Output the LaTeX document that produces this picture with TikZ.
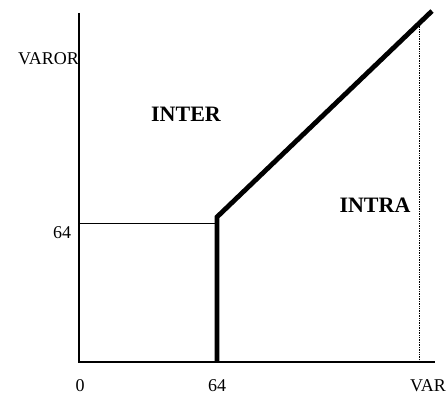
\documentclass[tikz,border=0pt]{standalone}
\usepackage{fontspec}
\setmainfont{Liberation Serif}
\usepackage{tikz}
\usetikzlibrary{positioning, calc}

\begin{document}
\begin{tikzpicture}[
    x=1pt, y=-1pt,
    lbl/.style={inner sep=0pt, font=\fontsize{18}{20}\selectfont},
    region/.style={inner sep=0pt, font=\fontsize{22}{24}\selectfont\bfseries},
    axis/.style={line width=2.2pt},
    bound/.style={line width=4.8pt},
    thin/.style={line width=0.9pt},
    guide/.style={densely dotted, line width=0.7pt}
]
\useasboundingbox (0,0) rectangle (447,395);

% Points
\coordinate (o)    at (79,362);
\coordinate (ytop) at (79,13);
\coordinate (xend) at (435,362);
\coordinate (kb)   at (217,362);
\coordinate (k)    at (217,217);
\coordinate (tr)   at (432,11);
\coordinate (h)    at (79,223);
\coordinate (hk)   at (217,223);
\coordinate (db)   at (419,362);
\coordinate (dt)   at ($(k)!(db)!(tr)$);
\coordinate (dtop) at (419,24);

% Axes
\draw[axis] (ytop) -- (o) -- (xend);

% Boundary
\draw[thin] (h) -- (hk);
\draw[guide] (dtop) -- (db);
\draw[bound, line join=miter] (kb) -- (k) -- (tr);

% Labels
\node[lbl, anchor=east] (varor) at (79,58.5) {VAROR};
\node[lbl] (y64)   at (62,233) {64};
\node[lbl] (x0)    at (80,386) {0};
\node[lbl] (x64)   at (217,386) {64};
\node[lbl] (xvar)  at (428,386) {VAR};
\node[region] (inter) at (186,114) {INTER};
\node[region] (intra) at (375,205) {INTRA};

\end{tikzpicture}
\end{document}
